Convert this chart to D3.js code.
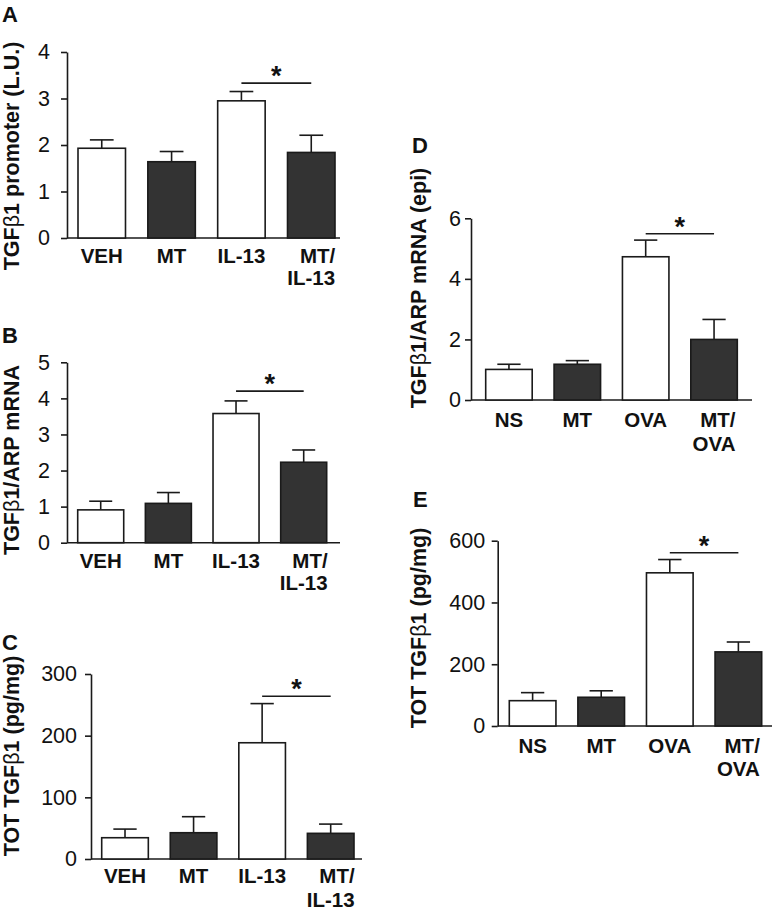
<!DOCTYPE html>
<html>
<head>
<meta charset="utf-8">
<script src="https://cdn.jsdelivr.net/npm/d3@7"></script>
<style>
html,body{margin:0;padding:0;background:#fff;}
svg{display:block;}
text{font-family:"Liberation Sans",Arial,Helvetica,sans-serif;fill:#111;}
</style>
</head>
<body>
<svg id="chart" width="777" height="912"></svg>
<script>
// ---------- DATA ----------
const catsABC = ["VEH", "MT", "IL-13", "MT/IL-13"];
const catsDE  = ["NS", "MT", "OVA", "MT/OVA"];

const meanA = [1.93, 1.64, 2.95, 1.84];
const errA  = [0.18, 0.22, 0.20, 0.37];
const sigA  = 3.33;
const ticksA = [0, 1, 2, 3, 4];

const meanB = [0.91, 1.09, 3.58, 2.23];
const errB  = [0.24, 0.30, 0.35, 0.34];
const sigB  = 4.2;
const ticksB = [0, 1, 2, 3, 4, 5];

const meanC = [34.5, 42.6, 188.5, 41.6];
const errC  = [14, 26, 63.5, 15];
const sigC  = 264;
const ticksC = [0, 100, 200, 300];

const meanD = [1.01, 1.18, 4.73, 2.0];
const errD  = [0.17, 0.12, 0.55, 0.66];
const sigD  = 5.49;
const ticksD = [0, 2, 4, 6];

const meanE = [82, 93, 496, 240];
const errE  = [26, 21, 43, 32];
const sigE  = 561;
const ticksE = [0, 200, 400, 600];

const yLabels = {
  A: ["TGF", "β", "1 promoter (L.U.)"],
  B: ["TGF", "β", "1/ARP mRNA"],
  C: ["TOT TGF", "β", "1 (pg/mg)"],
  D: ["TGF", "β", "1/ARP mRNA (epi)"],
  E: ["TOT TGF", "β", "1 (pg/mg)"]
};

// ---------- LAYOUT (positions only) ----------
const panels = [
  {id:"A", cats:catsABC, mean:meanA, err:errA, sig:sigA, ticks:ticksA,
   letter:[2,22], ax:67, y0:238, yTop:52, barL:78, barR:335, axEnd:340, tickPad:11,
   lab1:263, lab2:285, ylab:[19,156]},
  {id:"B", cats:catsABC, mean:meanB, err:errB, sig:sigB, ticks:ticksB,
   letter:[2,343], ax:67, y0:542.7, yTop:362.3, barL:77.7, barR:326.7, axEnd:340, tickPad:11,
   lab1:568, lab2:590, ylab:[19,460]},
  {id:"C", cats:catsABC, mean:meanC, err:errC, sig:sigC, ticks:ticksC,
   letter:[2,650], ax:91, y0:859, yTop:674, barL:101.7, barR:354, axEnd:362, tickPad:8,
   lab1:883, lab2:907, ylab:[19,756]},
  {id:"D", cats:catsDE, mean:meanD, err:errD, sig:sigD, ticks:ticksD,
   letter:[412,153], ax:471, y0:400, yTop:218.3, barL:485.7, barR:737.3, axEnd:752, tickPad:4,
   lab1:427, lab2:450.5, ylab:[426,288]},
  {id:"E", cats:catsDE, mean:meanE, err:errE, sig:sigE, ticks:ticksE,
   letter:[413,507], ax:497.7, y0:726, yTop:540.7, barL:509.3, barR:761.7, axEnd:772, tickPad:6.5,
   lab1:753, lab2:776, ylab:[426,628]}
];

const svg = d3.select("#chart");
const INK = "#1a1a1a";
const DARK = "#333333";
const SW = 1.6;

panels.forEach(p => {
  const g = svg.append("g");
  const ymax = p.ticks[p.ticks.length - 1];
  const y = d3.scaleLinear().domain([0, ymax]).range([p.y0, p.yTop]);
  const x = d3.scaleBand().domain(p.cats).range([p.barL, p.barR]).paddingInner(0.32).paddingOuter(0);
  const bw = x.bandwidth();

  // panel letter
  g.append("text").attr("x", p.letter[0]).attr("y", p.letter[1])
    .attr("font-size", 22).attr("font-weight", "bold").text(p.id);

  // y axis
  const yAxis = d3.axisLeft(y).tickValues(p.ticks).tickSize(6).tickSizeOuter(0)
    .tickPadding(p.tickPad).tickFormat(d3.format("d"));
  const ga = g.append("g").attr("transform", `translate(${p.ax},0)`).call(yAxis);
  ga.selectAll("path.domain").attr("stroke", INK).attr("stroke-width", SW);
  ga.selectAll(".tick line").attr("stroke", INK).attr("stroke-width", SW);
  ga.selectAll(".tick text").attr("font-size", 21.5).attr("fill", "#111")
    .attr("font-family", '"Liberation Sans",Arial,sans-serif');

  // x axis line
  g.append("line").attr("x1", p.ax).attr("x2", p.axEnd)
    .attr("y1", y(0)).attr("y2", y(0))
    .attr("stroke", INK).attr("stroke-width", SW);

  // error bars (drawn under bars)
  const eb = g.append("g");
  p.cats.forEach((c, i) => {
    const cx = x(c) + bw / 2;
    eb.append("line").attr("x1", cx).attr("x2", cx)
      .attr("y1", y(p.mean[i])).attr("y2", y(p.mean[i] + p.err[i]))
      .attr("stroke", INK).attr("stroke-width", SW);
    eb.append("line").attr("x1", cx - bw / 4).attr("x2", cx + bw / 4)
      .attr("y1", y(p.mean[i] + p.err[i])).attr("y2", y(p.mean[i] + p.err[i]))
      .attr("stroke", INK).attr("stroke-width", SW);
  });

  // bars
  g.selectAll("rect.bar").data(p.cats).enter().append("rect")
    .attr("class", "bar")
    .attr("x", c => x(c))
    .attr("width", bw)
    .attr("y", (c, i) => y(p.mean[i]))
    .attr("height", (c, i) => y(0) - y(p.mean[i]))
    .attr("fill", (c, i) => (i % 2 === 0 ? "#ffffff" : DARK))
    .attr("stroke", INK).attr("stroke-width", SW);

  // x category labels
  p.cats.forEach(c => {
    const cx = x(c) + bw / 2;
    const parts = c.includes("/") ? [c.slice(0, c.indexOf("/") + 1), c.slice(c.indexOf("/") + 1)] : [c];
    if (parts.length === 1) {
      g.append("text").attr("x", cx).attr("y", p.lab1).attr("text-anchor", "middle")
        .attr("font-size", 20.5).attr("font-weight", "bold").text(c);
    } else {
      const t2 = g.append("text").attr("x", cx).attr("y", p.lab2).attr("text-anchor", "middle")
        .attr("font-size", 20.5).attr("font-weight", "bold").text(parts[1]);
      const w2 = t2.node().getComputedTextLength();
      const right = cx + w2 / 2;
      g.append("text").attr("x", right).attr("y", p.lab1).attr("text-anchor", "end")
        .attr("font-size", 20.5).attr("font-weight", "bold").text(parts[0]);
    }
  });

  // significance bracket
  const c3 = x(p.cats[2]) + bw / 2, c4 = x(p.cats[3]) + bw / 2;
  g.append("line").attr("x1", c3).attr("x2", c4)
    .attr("y1", y(p.sig)).attr("y2", y(p.sig))
    .attr("stroke", INK).attr("stroke-width", SW);
  g.append("text").attr("x", (c3 + c4) / 2).attr("y", y(p.sig) + 2)
    .attr("text-anchor", "middle").attr("font-size", 27).attr("font-weight", "bold").text("*");

  // y axis label
  const lab = yLabels[p.id];
  const yt = g.append("text")
    .attr("transform", `translate(${p.ylab[0]},${p.ylab[1]}) rotate(-90)`)
    .attr("text-anchor", "middle").attr("font-size", 21.5).attr("font-weight", "bold");
  yt.append("tspan").text(lab[0]);
  yt.append("tspan").attr("font-weight", "normal").text(lab[1]);
  yt.append("tspan").text(lab[2]);
});
</script>
</body>
</html>
